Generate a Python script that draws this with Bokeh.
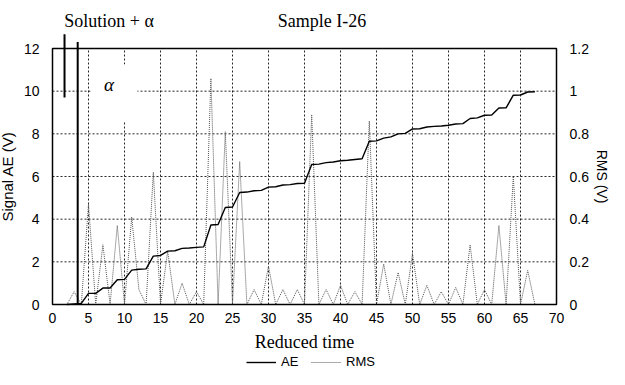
from bokeh.plotting import figure
from bokeh.models import (Range1d, LinearAxis, FixedTicker, NumeralTickFormatter,
                          Label, Arrow, Legend, LegendItem, ColumnDataSource)
from bokeh.embed import file_html
from bokeh.resources import INLINE

# ---- data ----
time = list(range(2, 68))
ae = [0.0, 0.03, 0.05, 0.52, 0.52, 0.77, 0.77, 1.16, 1.18, 1.61, 1.65, 1.67,
      2.27, 2.30, 2.50, 2.52, 2.63, 2.65, 2.68, 2.70, 3.73, 3.75, 4.55, 4.57,
      5.25, 5.27, 5.33, 5.35, 5.50, 5.52, 5.60, 5.62, 5.67, 5.68, 6.56, 6.58,
      6.65, 6.68, 6.74, 6.76, 6.80, 6.83, 7.65, 7.67, 7.80, 7.86, 8.00, 8.02,
      8.23, 8.24, 8.32, 8.35, 8.37, 8.40, 8.46, 8.48, 8.72, 8.75, 8.87, 8.88,
      9.21, 9.22, 9.81, 9.82, 9.96, 9.97]
rms = [0.0, 0.06, 0.0, 0.47, 0.0, 0.28, 0.0, 0.37, 0.0, 0.41, 0.07, 0.0,
       0.62, 0.0, 0.25, 0.0, 0.10, 0.0, 0.06, 0.0, 1.06, 0.0, 0.81, 0.0,
       0.67, 0.0, 0.07, 0.0, 0.18, 0.0, 0.07, 0.0, 0.07, 0.0, 0.89, 0.0,
       0.07, 0.0, 0.09, 0.0, 0.06, 0.0, 0.86, 0.0, 0.19, 0.0, 0.15, 0.0,
       0.24, 0.0, 0.09, 0.0, 0.06, 0.0, 0.08, 0.0, 0.28, 0.0, 0.07, 0.0,
       0.37, 0.0, 0.60, 0.0, 0.16, 0.0]
x_ticks = list(range(0, 71, 5))
y_ticks = list(range(0, 13, 2))
rms_ticks = [0, 0.2, 0.4, 0.6, 0.8, 1.0, 1.2]
x_lim = (0, 70)
y_lim = (0, 12)
rms_lim = (0, 1.2)
title_left = "Solution + α"
title_right = "Sample I-26"
marker_solution_x = 1.67
marker_alpha_x = 3.5

# ---- layout (pixels inside the 609x369 canvas) ----
W, H = 609, 369
box_left, box_right = 52, 556      # pixel columns of x=0 and x=70
box_top, box_bottom = 48, 304      # pixel rows of y=12 and y=0
sx = (box_right - box_left) / (x_lim[1] - x_lim[0])
sy = (box_bottom - box_top) / (y_lim[1] - y_lim[0])
x0 = x_lim[0] - box_left / sx
x1 = x0 + W / sx
y0 = y_lim[0] - (H - box_bottom) / sy
y1 = y0 + H / sy
ratio = rms_lim[1] / y_lim[1]

p = figure(width=W, height=H, output_backend="svg", toolbar_location=None,
           x_range=Range1d(x0, x1), y_range=Range1d(y0, y1),
           min_border=0, min_border_left=0, min_border_right=0,
           min_border_top=0, min_border_bottom=0)
p.extra_y_ranges = {"rms": Range1d(y0 * ratio, y1 * ratio)}
p.outline_line_color = None
p.background_fill_color = "white"
p.border_fill_color = "white"
p.xgrid.visible = False
p.ygrid.visible = False

# axes drawn at the edges of the data box
p.xaxis.ticker = FixedTicker(ticks=x_ticks)
p.xaxis.fixed_location = y_lim[0]
p.xaxis.bounds = x_lim
p.yaxis.ticker = FixedTicker(ticks=y_ticks)
p.yaxis.fixed_location = x_lim[0]
p.yaxis.bounds = y_lim
right = LinearAxis(y_range_name="rms", ticker=FixedTicker(ticks=rms_ticks),
                   formatter=NumeralTickFormatter(format="0.[0]"),
                   fixed_location=x_lim[1], bounds=rms_lim)
p.add_layout(right, "right")

for ax in [p.xaxis[0], p.yaxis[0], right]:
    ax.major_tick_line_color = None
    ax.minor_tick_line_color = None
    ax.axis_line_color = None
    ax.major_label_text_font = "Liberation Sans"
    ax.major_label_text_font_size = "14px"
    ax.major_label_text_color = "black"
    ax.axis_label_text_font_style = "normal"
    ax.axis_label_text_color = "black"

p.xaxis.major_label_standoff = 2
p.xaxis.axis_label = "Reduced time"
p.xaxis.axis_label_text_font = "Liberation Serif"
p.xaxis.axis_label_text_font_size = "18px"
p.xaxis.axis_label_standoff = 6

p.yaxis.major_label_standoff = 7
p.yaxis.axis_label = "Signal AE (V)"
p.yaxis.axis_label_text_font = "Liberation Sans"
p.yaxis.axis_label_text_font_size = "15px"
p.yaxis.axis_label_standoff = 5

right.major_label_standoff = 7
right.axis_label = "RMS (V)"
right.axis_label_text_font = "Liberation Sans"
right.axis_label_text_font_size = "14px"
right.axis_label_standoff = 2

# dotted grid inside the data box, from the tick lists
grid_style = dict(line_color="black", line_dash="2 2", line_width=1, line_alpha=0.85)
p.segment(x0=x_ticks, y0=[y_lim[0]] * len(x_ticks), x1=x_ticks,
          y1=[y_lim[1]] * len(x_ticks), **grid_style)
p.segment(x0=[x_lim[0]] * len(y_ticks), y0=y_ticks, x1=[x_lim[1]] * len(y_ticks),
          y1=y_ticks, **grid_style)

# white box behind alpha symbol
p.quad(left=5.3, right=11.8, bottom=8.6, top=11.25, fill_color="white",
       line_color=None)

src = ColumnDataSource(dict(t=time, ae=ae, rms=rms))
r_rms = p.line("t", "rms", source=src, y_range_name="rms", line_color="#555555",
               line_width=1, line_dash="1 1")
r_ae = p.line("t", "ae", source=src, line_color="black", line_width=1.4)

# frame box
p.quad(left=x_lim[0], right=x_lim[1], bottom=y_lim[0], top=y_lim[1],
       fill_color=None, line_color="black", line_width=1.5)

# vertical marker lines
p.add_layout(Arrow(end=None, x_start=marker_alpha_x, y_start=0,
                   x_end=marker_alpha_x, y_end=12.3, line_width=2,
                   line_color="black"))
p.add_layout(Arrow(end=None, x_start=marker_solution_x, y_start=9.7,
                   x_end=marker_solution_x, y_end=12.67, line_width=2,
                   line_color="black"))

# texts
p.add_layout(Label(x=1.63, y=13.3, text=title_left, text_font="Liberation Serif",
                   text_font_size="18px", text_baseline="middle",
                   text_color="black"))
p.add_layout(Label(x=31.3, y=13.3, text=title_right, text_font="Liberation Serif",
                   text_font_size="18px", text_baseline="middle",
                   text_color="black"))
p.add_layout(Label(x=7.85, y=10.3, text="α", text_font="Liberation Serif",
                   text_font_style="italic", text_font_size="19px",
                   text_baseline="middle", text_align="center",
                   text_color="black"))

legend = Legend(items=[LegendItem(label="AE", renderers=[r_ae]),
                       LegendItem(label="RMS", renderers=[r_rms])],
                orientation="horizontal", location=(246, 0),
                border_line_color=None, background_fill_alpha=0,
                label_text_font="Liberation Sans", label_text_font_size="13px",
                label_text_color="black",
                glyph_width=30, glyph_height=10, label_height=10,
                label_standoff=5, spacing=10, padding=0, margin=0)
p.add_layout(legend, "center")

open("out.html", "w").write(file_html(p, INLINE))
